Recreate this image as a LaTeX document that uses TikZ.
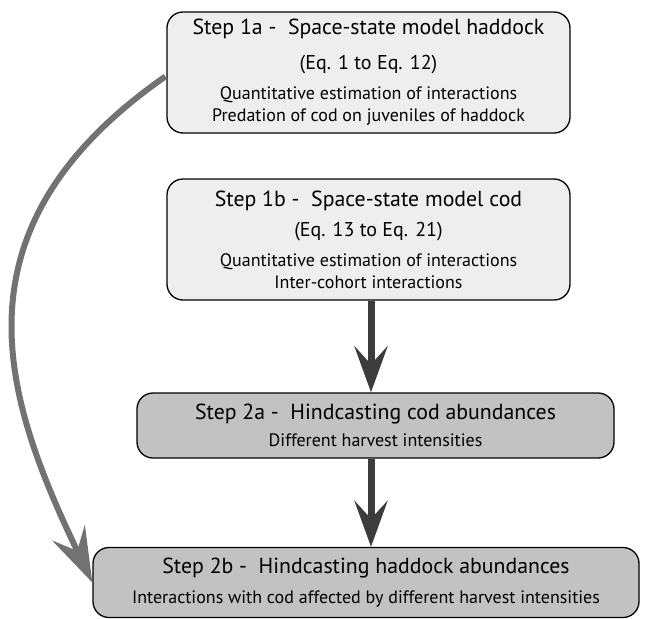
\documentclass[tikz,border=0pt]{standalone}
\usepackage{fontspec}
\setmainfont{PT Sans}
\usepackage{tikz}
\usetikzlibrary{arrows.meta, positioning, calc}

\definecolor{lightbox}{HTML}{EEEEEE}
\definecolor{darkbox}{HTML}{C2C2C2}
\definecolor{flowgray}{HTML}{3C3C3C}
\definecolor{loopgray}{HTML}{727272}

\newcommand{\steptitle}{\fontsize{21.8}{22}\selectfont}
\newcommand{\stepeq}{\fontsize{20}{22}\selectfont}
\newcommand{\stepbody}{\fontsize{18}{22}\selectfont}

\begin{document}
\begin{tikzpicture}[
  x=1pt, y=-1pt,
  stepbox/.style={draw, line width=1.3pt, rounded corners=16pt, align=center, inner sep=0pt, font=\stepbody},
  modelbox/.style={stepbox, fill=lightbox, minimum width=403pt, minimum height=121pt},
  castbox/.style={stepbox, fill=darkbox},
  flow/.style={line width=7pt, draw=flowgray, -{Stealth[length=46pt, width=33pt, inset=18pt]}},
  loop/.style={line width=6pt, draw=loopgray, -{Stealth[length=55pt, width=36pt, inset=20pt]}},
]
\useasboundingbox (0,0) rectangle (646,619);

% Modelling steps
\node[modelbox] (s1a) at (368.5,72.5) {%
  \steptitle Step 1a -\ \ Space-state model haddock\\[13pt]
  \stepeq (Eq. 1 to Eq. 12)\\[8pt]
  Quantitative estimation of interactions\\
  Predation of cod on juveniles of haddock};
\node[modelbox] (s1b) at (368.5,239.5) {%
  \steptitle Step 1b -\ \ Space-state model cod\\[8pt]
  \stepeq (Eq. 13 to Eq. 21)\\[8pt]
  Quantitative estimation of interactions\\
  Inter-cohort interactions};

% Hindcasting steps
\node[castbox, minimum width=477pt, minimum height=65pt] (s2a) at (375.5,425.5) {%
  \steptitle Step 2a -\ \ Hindcasting cod abundances\\[5pt]
  Different harvest intensities};
\node[castbox, minimum width=546pt, minimum height=70pt] (s2b) at (366,582.5) {%
  \steptitle Step 2b -\ \ Hindcasting haddock abundances\\[8pt]
  Interactions with cod affected by different harvest intensities};

% Arrows
\draw[flow] (s1b.south -| 371,0) -- (s2a.north -| 371,0);
\draw[flow] (s2a.south -| 371,0) -- (s2b.north -| 371,0);
\draw[loop] ($(s1a.west)+(-1,4)$) .. controls (-55,230) and (5,400) .. (s2b.west);
\end{tikzpicture}
\end{document}
